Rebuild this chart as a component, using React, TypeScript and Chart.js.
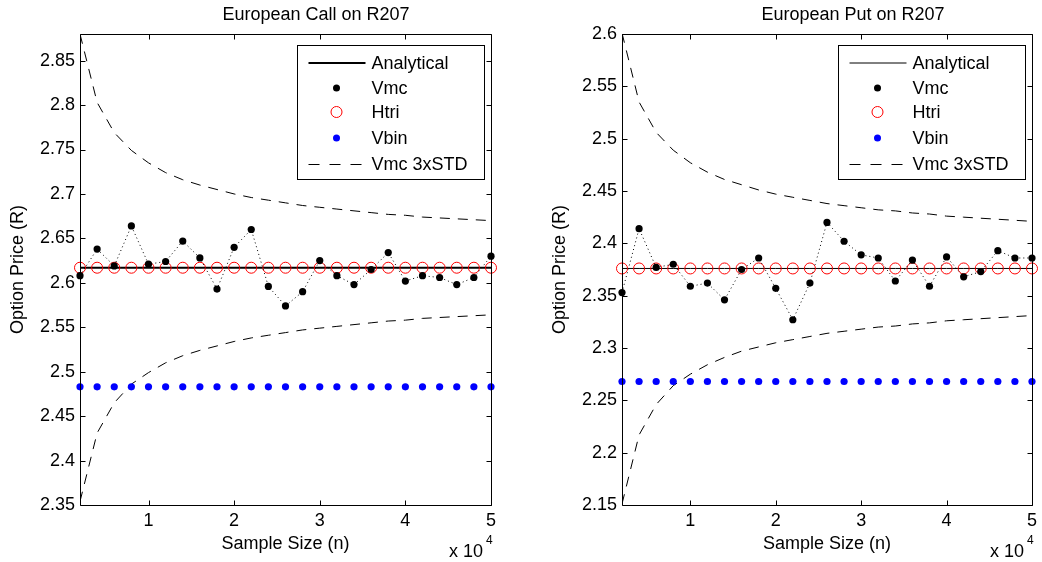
import React, { useEffect, useRef } from "react";
import { Chart, registerables } from "chart.js";
Chart.register(...registerables);

// ---------- data ----------
const sampleSizes = [2000, 4000, 6000, 8000, 10000, 12000, 14000, 16000, 18000, 20000, 22000, 24000, 26000, 28000, 30000, 32000, 34000, 36000, 38000, 40000, 42000, 44000, 46000, 48000, 50000];
const xTickValues = [10000, 20000, 30000, 40000, 50000];

const callYTicks = [2.35, 2.4, 2.45, 2.5, 2.55, 2.6, 2.65, 2.7, 2.75, 2.8, 2.85];
const putYTicks = [2.15, 2.2, 2.25, 2.3, 2.35, 2.4, 2.45, 2.5, 2.55, 2.6];

const callAnalytical = [2.617, 2.617, 2.617, 2.617, 2.617, 2.617, 2.617, 2.617, 2.617, 2.617, 2.617, 2.617, 2.617, 2.617, 2.617, 2.617, 2.617, 2.617, 2.617, 2.617, 2.617, 2.617, 2.617, 2.617, 2.617];
const callVmc = [2.608, 2.638, 2.619, 2.664, 2.621, 2.624, 2.647, 2.628, 2.593, 2.640, 2.660, 2.596, 2.574, 2.590, 2.625, 2.608, 2.598, 2.615, 2.634, 2.602, 2.608, 2.606, 2.598, 2.606, 2.630];
const callHtri = [2.617, 2.617, 2.617, 2.617, 2.617, 2.617, 2.617, 2.617, 2.617, 2.617, 2.617, 2.617, 2.617, 2.617, 2.617, 2.617, 2.617, 2.617, 2.617, 2.617, 2.617, 2.617, 2.617, 2.617, 2.617];
const callVbin = [2.483, 2.483, 2.483, 2.483, 2.483, 2.483, 2.483, 2.483, 2.483, 2.483, 2.483, 2.483, 2.483, 2.483, 2.483, 2.483, 2.483, 2.483, 2.483, 2.483, 2.483, 2.483, 2.483, 2.483, 2.483];
const callUpper = [2.880, 2.803, 2.769, 2.749, 2.735, 2.724, 2.716, 2.710, 2.705, 2.700, 2.696, 2.693, 2.690, 2.687, 2.685, 2.683, 2.681, 2.679, 2.677, 2.676, 2.674, 2.673, 2.672, 2.671, 2.670];
const callLower = [2.354, 2.431, 2.465, 2.486, 2.499, 2.510, 2.518, 2.524, 2.529, 2.534, 2.538, 2.541, 2.544, 2.547, 2.549, 2.551, 2.553, 2.555, 2.557, 2.558, 2.560, 2.561, 2.562, 2.563, 2.564];

const putAnalytical = [2.376, 2.376, 2.376, 2.376, 2.376, 2.376, 2.376, 2.376, 2.376, 2.376, 2.376, 2.376, 2.376, 2.376, 2.376, 2.376, 2.376, 2.376, 2.376, 2.376, 2.376, 2.376, 2.376, 2.376, 2.376];
const putVmc = [2.353, 2.414, 2.377, 2.380, 2.359, 2.362, 2.346, 2.375, 2.386, 2.357, 2.327, 2.362, 2.420, 2.402, 2.389, 2.386, 2.364, 2.384, 2.359, 2.387, 2.368, 2.373, 2.393, 2.386, 2.386];
const putHtri = [2.376, 2.376, 2.376, 2.376, 2.376, 2.376, 2.376, 2.376, 2.376, 2.376, 2.376, 2.376, 2.376, 2.376, 2.376, 2.376, 2.376, 2.376, 2.376, 2.376, 2.376, 2.376, 2.376, 2.376, 2.376];
const putVbin = [2.268, 2.268, 2.268, 2.268, 2.268, 2.268, 2.268, 2.268, 2.268, 2.268, 2.268, 2.268, 2.268, 2.268, 2.268, 2.268, 2.268, 2.268, 2.268, 2.268, 2.268, 2.268, 2.268, 2.268, 2.268];
const putUpper = [2.601, 2.535, 2.506, 2.489, 2.477, 2.468, 2.461, 2.456, 2.451, 2.447, 2.444, 2.441, 2.438, 2.436, 2.434, 2.432, 2.431, 2.429, 2.428, 2.426, 2.425, 2.424, 2.423, 2.422, 2.421];
const putLower = [2.151, 2.217, 2.246, 2.264, 2.275, 2.284, 2.291, 2.297, 2.301, 2.305, 2.308, 2.311, 2.314, 2.316, 2.318, 2.320, 2.321, 2.323, 2.324, 2.326, 2.327, 2.328, 2.329, 2.330, 2.331];

const legendLabels = ["Analytical", "Vmc", "Htri", "Vbin", "Vmc 3xSTD"];

// ---------- styling ----------
const FONT_FAMILY = '"Liberation Sans", Arial, Helvetica, sans-serif';
const FS = 18;

type Panel = {
  title: string;
  titleX: number; // canvas coords
  yMin: number;
  yMax: number;
  yTicks: number[];
  analytical: number[];
  vmc: number[];
  htri: number[];
  vbin: number[];
  upper: number[];
  lower: number[];
  analyticalWidth: number;
  padLeft: number;
  padRight: number;
};

const toXY = (ys: number[]) => ys.map((y, i) => ({ x: sampleSizes[i], y }));

function decorPlugin(p: Panel) {
  return {
    id: "matlabDecor",
    afterDraw(chart: any) {
      const ctx = chart.ctx as CanvasRenderingContext2D;
      const a = chart.chartArea;
      const xs = chart.scales.x;
      const ys = chart.scales.y;
      ctx.save();
      // box
      ctx.strokeStyle = "#000";
      ctx.lineWidth = 1;
      const L = Math.round(a.left) + 0.5, R = Math.round(a.right) + 0.5;
      const T = Math.round(a.top) + 0.5, B = Math.round(a.bottom) + 0.5;
      ctx.beginPath();
      ctx.rect(L, T, R - L, B - T);
      ctx.stroke();
      // inward ticks
      const tl = 5;
      ctx.beginPath();
      xTickValues.forEach((v) => {
        const px = Math.round(xs.getPixelForValue(v)) + 0.5;
        ctx.moveTo(px, B); ctx.lineTo(px, B - tl);
        ctx.moveTo(px, T); ctx.lineTo(px, T + tl);
      });
      p.yTicks.forEach((v) => {
        const py = Math.round(ys.getPixelForValue(v)) + 0.5;
        ctx.moveTo(L, py); ctx.lineTo(L + tl, py);
        ctx.moveTo(R, py); ctx.lineTo(R - tl, py);
      });
      ctx.stroke();
      // title
      ctx.fillStyle = "#000";
      ctx.font = `${FS}px ${FONT_FAMILY}`;
      ctx.textAlign = "center";
      ctx.textBaseline = "middle";
      ctx.fillText(p.title, p.titleX, 15);
      // exponent
      ctx.textAlign = "left";
      ctx.fillText("x 10", a.right - 42, 552);
      ctx.font = `${12}px ${FONT_FAMILY}`;
      ctx.fillText("4", a.right - 5, 541);
      // legend
      const bx = Math.round(a.right) - 194 + 0.5;
      const by = 45.5;
      const bw = 187, bh = 134;
      ctx.fillStyle = "#fff";
      ctx.fillRect(bx, by, bw, bh);
      ctx.strokeStyle = "#000";
      ctx.lineWidth = 1;
      ctx.strokeRect(bx, by, bw, bh);
      const rows = [63, 88, 112, 138, 164];
      const lx0 = bx + 11, lx1 = bx + 68, mx = bx + 39, tx = bx + 74;
      // Analytical
      ctx.beginPath();
      ctx.lineWidth = p.analyticalWidth;
      ctx.moveTo(lx0, rows[0]); ctx.lineTo(lx1, rows[0]);
      ctx.stroke();
      // Vmc
      ctx.fillStyle = "#000";
      ctx.beginPath(); ctx.arc(mx, rows[1], 3.5, 0, Math.PI * 2); ctx.fill();
      // Htri
      ctx.strokeStyle = "#ff0000"; ctx.lineWidth = 1;
      ctx.beginPath(); ctx.arc(mx, rows[2], 5.5, 0, Math.PI * 2); ctx.stroke();
      // Vbin
      ctx.fillStyle = "#0000ff";
      ctx.beginPath(); ctx.arc(mx, rows[3], 3.5, 0, Math.PI * 2); ctx.fill();
      // dashed
      ctx.strokeStyle = "#000"; ctx.lineWidth = 1;
      ctx.setLineDash([11, 10]);
      ctx.beginPath(); ctx.moveTo(lx0, rows[4] + 0.5); ctx.lineTo(lx1, rows[4] + 0.5); ctx.stroke();
      ctx.setLineDash([]);
      ctx.fillStyle = "#000";
      ctx.font = `${FS}px ${FONT_FAMILY}`;
      ctx.textBaseline = "middle";
      legendLabels.forEach((t, i) => ctx.fillText(t, tx, rows[i] + 1));
      ctx.restore();
    },
  };
}

function makeConfig(p: Panel): any {
  const font = { family: FONT_FAMILY, size: FS };
  return {
    type: "line",
    data: {
      datasets: [
        {
          label: "Vmc", data: toXY(p.vmc), borderColor: "#000", borderWidth: 1, borderDash: [1, 3],
          pointRadius: 3.6, pointBackgroundColor: "#000", pointBorderWidth: 0, clip: false, tension: 0,
        },
        {
          label: "Htri", data: toXY(p.htri), showLine: false, pointRadius: 5.5,
          pointBackgroundColor: "rgba(0,0,0,0)", pointBorderColor: "#ff0000", pointBorderWidth: 1, clip: false,
        },
        {
          label: "Vbin", data: toXY(p.vbin), showLine: false, pointRadius: 3.6,
          pointBackgroundColor: "#0000ff", pointBorderWidth: 0, clip: false,
        },
        {
          label: "Analytical", data: toXY(p.analytical), borderColor: "#000", borderWidth: p.analyticalWidth,
          pointRadius: 0, tension: 0,
        },
        {
          label: "Vmc 3xSTD", data: toXY(p.upper), borderColor: "#000", borderWidth: 1, borderDash: [10, 8],
          pointRadius: 0, tension: 0,
        },
        {
          label: "Vmc 3xSTD low", data: toXY(p.lower), borderColor: "#000", borderWidth: 1, borderDash: [10, 8],
          pointRadius: 0, tension: 0,
        },
      ],
    },
    options: {
      animation: false,
      responsive: false,
      devicePixelRatio: 1,
      events: [],
      layout: { padding: { top: 34, left: p.padLeft, right: p.padRight, bottom: 0 } },
      plugins: { legend: { display: false }, tooltip: { enabled: false }, title: { display: false } },
      scales: {
        x: {
          type: "linear", min: 2000, max: 50000,
          grid: { display: false, drawTicks: false }, border: { display: false },
          afterBuildTicks: (s: any) => { s.ticks = xTickValues.map((v) => ({ value: v })); },
          ticks: { callback: (v: number) => String(v / 10000), font, color: "#000", padding: 5, maxRotation: 0, autoSkip: false },
          title: { display: true, text: "Sample Size (n)", font, color: "#000", padding: { top: 0, bottom: 7 } },
          afterFit: (s: any) => { s.height = 57; },
        },
        y: {
          type: "linear", min: p.yMin, max: p.yMax,
          grid: { display: false, drawTicks: false }, border: { display: false },
          afterBuildTicks: (s: any) => { s.ticks = p.yTicks.map((v) => ({ value: v })); },
          ticks: { callback: (v: number) => String(parseFloat(v.toFixed(2))), font, color: "#000", padding: 5, autoSkip: false },
          title: { display: true, text: "Option Price (R)", font, color: "#000", padding: { top: 7.5, bottom: 0 } },
          afterFit: (s: any) => { s.width = 80; },
        },
      },
    },
    plugins: [decorPlugin(p)],
  };
}

const callPanel: Panel = {
  title: "European Call on R207", titleX: 316, yMin: 2.35, yMax: 2.88, yTicks: callYTicks,
  analytical: callAnalytical, vmc: callVmc, htri: callHtri, vbin: callVbin, upper: callUpper, lower: callLower,
  analyticalWidth: 2, padLeft: 0, padRight: 30,
};
const putPanel: Panel = {
  title: "European Put on R207", titleX: 853 - 521, yMin: 2.15, yMax: 2.6, yTicks: putYTicks,
  analytical: putAnalytical, vmc: putVmc, htri: putHtri, vbin: putVbin, upper: putUpper, lower: putLower,
  analyticalWidth: 1, padLeft: 21, padRight: 9,
};

function ChartPanel({ panel, left }: { panel: Panel; left: number }) {
  const ref = useRef<HTMLCanvasElement | null>(null);
  useEffect(() => {
    if (!ref.current) return;
    const chart = new Chart(ref.current, makeConfig(panel));
    return () => chart.destroy();
  }, [panel]);
  return (
    <canvas
      ref={ref}
      width={521}
      height={562}
      style={{ position: "absolute", left, top: 0, width: 521, height: 562 }}
    />
  );
}

export default function App() {
  return (
    <div style={{ position: "absolute", left: 0, top: 0, width: 1042, height: 562, background: "#fff", overflow: "hidden" }}>
      <ChartPanel panel={callPanel} left={0} />
      <ChartPanel panel={putPanel} left={521} />
    </div>
  );
}
